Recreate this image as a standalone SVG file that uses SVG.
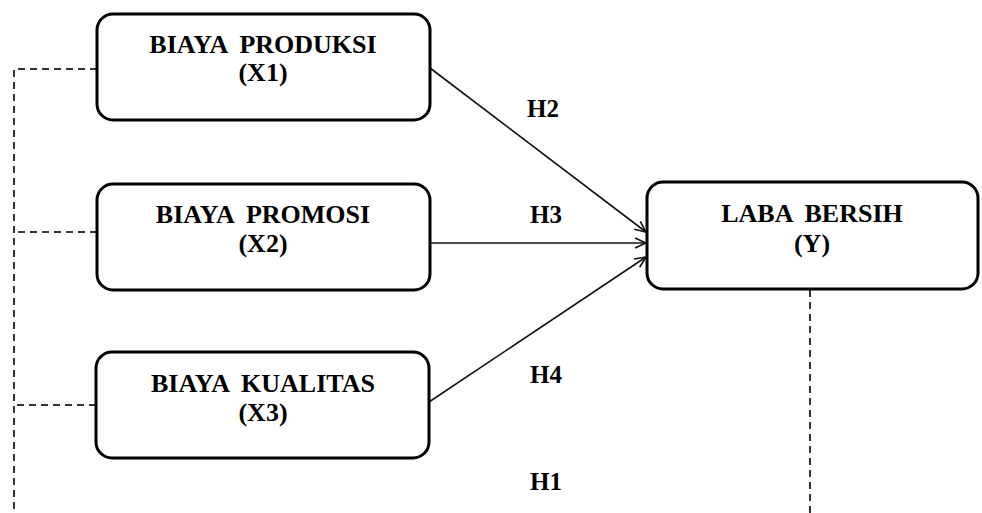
<svg xmlns="http://www.w3.org/2000/svg" width="982" height="513" viewBox="0 0 982 513">
<style>
.box{fill:#fff;stroke:#000;stroke-width:3}
.t{font-family:"Liberation Serif",serif;font-weight:bold;font-size:26px;word-spacing:6px;fill:#000;text-anchor:middle}
.h{font-size:25px}
.dash{fill:none;stroke:#333;stroke-width:2;stroke-dasharray:7 5}
.arr{fill:none;stroke:#111;stroke-width:1.6;marker-end:url(#ah)}
</style>
<defs>
<marker id="ah" markerWidth="14" markerHeight="12" refX="12" refY="6" orient="auto" markerUnits="userSpaceOnUse">
<path d="M1,1 L12,6 L1,11" fill="none" stroke="#111" stroke-width="1.6"/>
</marker>
</defs>
<g id="connectors">
<path class="dash" d="M97,69 H14 V513"/>
<path class="dash" d="M97,232 H14"/>
<path class="dash" d="M96,405 H14"/>
<path class="dash" d="M810,290 V513"/>
<line class="arr" x1="430" y1="68" x2="646" y2="232"/>
<line class="arr" x1="430" y1="243" x2="646" y2="243"/>
<line class="arr" x1="429" y1="402" x2="646" y2="257"/>
<text class="t h" x="543" y="117">H2</text>
<text class="t h" x="546" y="223">H3</text>
<text class="t h" x="546" y="383">H4</text>
<text class="t h" x="546" y="490">H1</text>
</g>
<g id="x1">
<rect class="box" x="97" y="14" width="333" height="106" rx="16"/>
<text class="t" x="263" y="53">BIAYA PRODUKSI</text>
<text class="t" x="263" y="81">(X1)</text>
</g>
<g id="x2">
<rect class="box" x="97" y="184" width="333" height="106" rx="16"/>
<text class="t" x="263" y="223">BIAYA PROMOSI</text>
<text class="t" x="263" y="252">(X2)</text>
</g>
<g id="x3">
<rect class="box" x="96" y="352" width="333" height="106" rx="16"/>
<text class="t" x="263" y="392">BIAYA KUALITAS</text>
<text class="t" x="263" y="421">(X3)</text>
</g>
<g id="y">
<rect class="box" x="647" y="182" width="331" height="107" rx="16"/>
<text class="t" x="812" y="222">LABA BERSIH</text>
<text class="t" x="812" y="252">(Y)</text>
</g>
</svg>
